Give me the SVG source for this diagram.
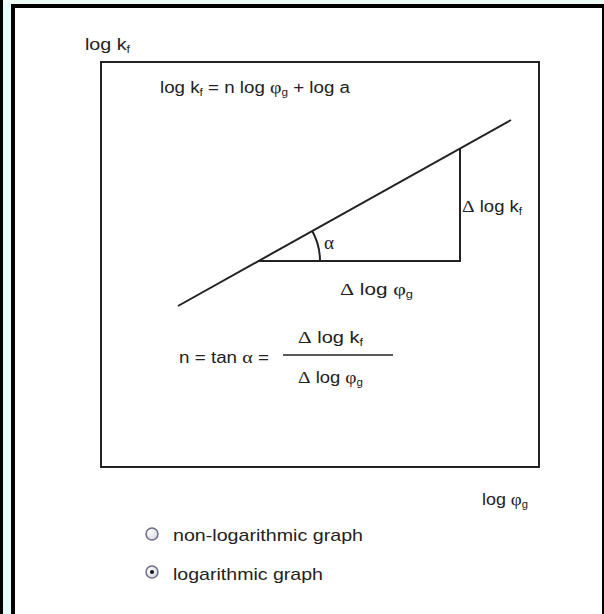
<svg xmlns="http://www.w3.org/2000/svg" width="604" height="614" viewBox="0 0 604 614">
<style>
text{font-family:"Liberation Sans",Arial,sans-serif;font-size:16px;fill:#222}
.g{font-family:"Liberation Serif","DejaVu Serif",serif;font-size:17px}
.sub{font-size:10px}
.big{font-size:17px}
.ln{stroke:#222;stroke-width:2;fill:none}
</style>
<defs>
<radialGradient id="rb" cx="0.35" cy="0.35" r="0.8">
<stop offset="0" stop-color="#ffffff"/>
<stop offset="1" stop-color="#d0d0de"/>
</radialGradient>
</defs>
<rect x="0" y="0" width="604" height="614" fill="#ffffff"/>
<rect x="3" y="0" width="8" height="614" fill="#e6fbfa"/>
<rect x="0" y="0" width="604" height="4" fill="#eefcf8"/>
<g id="frame">
<rect x="0" y="0" width="3" height="614" fill="#000"/>
<rect x="11" y="4" width="4" height="610" fill="#000"/>
<rect x="11" y="4" width="593" height="4" fill="#000"/>
<rect x="602" y="4" width="2" height="610" fill="#000"/>
</g>
<g id="plot">
<rect x="101" y="62" width="438" height="405" fill="none" stroke="#222" stroke-width="2"/>
</g>
<g id="connectors">
<line class="ln" x1="178" y1="306" x2="511" y2="120"/>
<polyline class="ln" points="258,261 460,261 460,149"/>
<path class="ln" d="M320,261 A62,62 0 0 0 312.1,230.8" stroke-width="1.5"/>
</g>
<g id="labels">
<text x="85" y="50" textLength="45" lengthAdjust="spacingAndGlyphs">log k<tspan class="sub" dy="3">f</tspan></text>
<text x="160" y="93" textLength="190" lengthAdjust="spacingAndGlyphs">log k<tspan class="sub" dy="3">f</tspan><tspan dy="-3"> = n log </tspan><tspan class="g">φ</tspan><tspan class="sub" dy="3">g</tspan><tspan dy="-3"> + log a</tspan></text>
<text x="324" y="249" class="g" style="font-size:19px">α</text>
<text x="462" y="212" textLength="60" lengthAdjust="spacingAndGlyphs"><tspan class="g">Δ</tspan> log k<tspan class="sub" dy="3">f</tspan></text>
<text x="340" y="295" textLength="73" lengthAdjust="spacingAndGlyphs"><tspan class="g">Δ</tspan> log <tspan class="g">φ</tspan><tspan class="sub" dy="3">g</tspan></text>
</g>
<g id="formula">
<text x="179" y="363" textLength="90" lengthAdjust="spacingAndGlyphs">n = tan <tspan class="g">α</tspan> =</text>
<line x1="283" y1="355" x2="393" y2="355" stroke="#222" stroke-width="1.5"/>
<text x="298" y="343" textLength="65" lengthAdjust="spacingAndGlyphs"><tspan class="g">Δ</tspan> log k<tspan class="sub" dy="3">f</tspan></text>
<text x="298" y="383" textLength="65" lengthAdjust="spacingAndGlyphs"><tspan class="g">Δ</tspan> log <tspan class="g">φ</tspan><tspan class="sub" dy="3">g</tspan></text>
</g>
<g id="axis-x">
<text x="482" y="505" textLength="46" lengthAdjust="spacingAndGlyphs">log <tspan class="g">φ</tspan><tspan class="sub" dy="3">g</tspan></text>
</g>
<g id="radio-nonlog">
<circle cx="152" cy="534" r="6" fill="url(#rb)" stroke="#6e6e88" stroke-width="1.5"/>
<text class="big" x="173" y="541" textLength="190" lengthAdjust="spacingAndGlyphs">non-logarithmic graph</text>
</g>
<g id="radio-log">
<circle cx="152" cy="572" r="6" fill="url(#rb)" stroke="#6e6e88" stroke-width="1.5"/>
<circle cx="152" cy="572" r="2" fill="#111"/>
<text class="big" x="173" y="580" textLength="150" lengthAdjust="spacingAndGlyphs">logarithmic graph</text>
</g>
</svg>
